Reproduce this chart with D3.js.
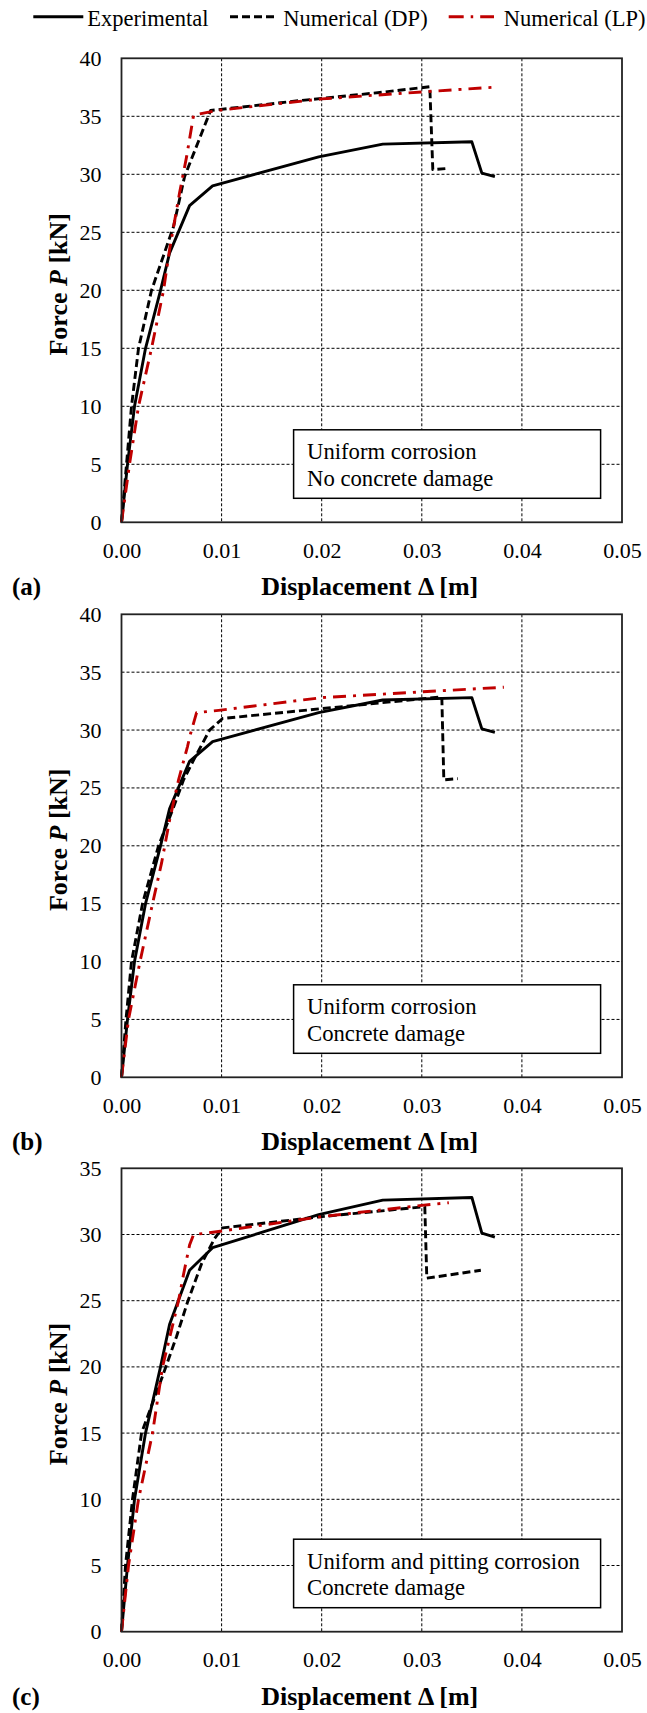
<!DOCTYPE html>
<html>
<head>
<meta charset="utf-8">
<script src="https://cdn.jsdelivr.net/npm/d3@7/dist/d3.min.js"></script>
<style>
  html, body { margin: 0; padding: 0; background: #fff; }
  svg { display: block; }
</style>
</head>
<body>
<svg id="chart" width="647" height="1713"></svg>
<script>
// Force–displacement curves, displacement in m, force in kN
const experimental = [
  [0, 0], [0.0006, 5], [0.0013, 10], [0.0024, 15], [0.0039, 20], [0.0048, 23.2],
  [0.0068, 27.3], [0.0091, 29.0], [0.0197, 31.5], [0.0261, 32.6], [0.0350, 32.8],
  [0.0360, 30.1], [0.0373, 29.8]
];

// (a) uniform corrosion, no concrete damage
const dpA = [
  [0, 0], [0.0005, 5], [0.0010, 10], [0.0017, 15], [0.0030, 20], [0.0052, 25.5],
  [0.0063, 29.8], [0.0089, 35.5], [0.0178, 36.35], [0.0258, 37.05], [0.0308, 37.55],
  [0.0311, 30.4], [0.0325, 30.5]
];
const lpA = [
  [0, 0], [0.0008, 5], [0.0017, 10], [0.0030, 15], [0.0042, 20], [0.0048, 23.5],
  [0.0058, 28.4], [0.0065, 31.5], [0.0072, 35.1], [0.0095, 35.5], [0.0200, 36.5],
  [0.0300, 37.1], [0.0371, 37.5]
];

// (b) uniform corrosion, concrete damage
const dpB = [
  [0, 0], [0.00045, 5], [0.0010, 10], [0.0021, 15], [0.0037, 20], [0.0051, 23.1],
  [0.0062, 25.7], [0.0072, 27.4], [0.0088, 30.0], [0.0101, 31.0], [0.0200, 31.85],
  [0.0320, 32.87], [0.0322, 25.7], [0.0336, 25.8]
];
const lpB = [
  [0, 0], [0.0007, 5], [0.00185, 10], [0.0031, 15], [0.0040, 18.5], [0.0048, 22.2],
  [0.0057, 25.7], [0.0066, 28.6], [0.0069, 29.7], [0.0075, 31.5], [0.0097, 31.7],
  [0.0200, 32.8], [0.0300, 33.3], [0.0382, 33.7]
];

// (c) uniform and pitting corrosion, concrete damage
const dpC = [
  [0, 0], [0.0004, 5], [0.0011, 10], [0.0020, 15], [0.0041, 19.3], [0.0055, 22.3],
  [0.0066, 24.9], [0.0080, 27.8], [0.0093, 29.7], [0.0101, 30.5], [0.0200, 31.35],
  [0.0303, 32.1], [0.0305, 26.7], [0.0359, 27.3]
];
const lpC = [
  [0, 0], [0.0007, 5], [0.0017, 10], [0.0031, 15], [0.0041, 20], [0.0057, 25],
  [0.0062, 27.0], [0.0068, 29.2], [0.0072, 30.0], [0.0085, 30.1], [0.0200, 31.35],
  [0.0300, 32.2], [0.0327, 32.4]
];

const xTickValues = [0, 0.01, 0.02, 0.03, 0.04, 0.05];
const yTicksAB = [0, 5, 10, 15, 20, 25, 30, 35, 40];
const yTicksC = [0, 5, 10, 15, 20, 25, 30, 35];
const panelLabels = ["(a)", "(b)", "(c)"];
const noteLines = [
  ["Uniform corrosion", "No concrete damage"],
  ["Uniform corrosion", "Concrete damage"],
  ["Uniform and pitting corrosion", "Concrete damage"]
];
const seriesNames = ["Experimental", "Numerical (DP)", "Numerical (LP)"];

const FONT = '"Liberation Serif", "Times New Roman", Tinos, "DejaVu Serif", serif';
const RED = "#c00000";
const seriesStyle = [
  { stroke: "#000", dash: null },
  { stroke: "#000", dash: "8,4" },
  { stroke: RED, dash: "13,7,3,7" }
];

const svg = d3.select("#chart")
  .attr("font-family", FONT)
  .style("font-family", FONT);
svg.append("rect").attr("width", 647).attr("height", 1713).attr("fill", "#fff");

const plotLeft = 121.5, plotRight = 622;
const x = d3.scaleLinear().domain([0, 0.05]).range([plotLeft, plotRight]);

const panels = [
  { top: 58.3, bottom: 522.3, yTicks: yTicksAB, dp: dpA, lp: lpA },
  { top: 614.3, bottom: 1077.3, yTicks: yTicksAB, dp: dpB, lp: lpB },
  { top: 1168.3, bottom: 1631.7, yTicks: yTicksC, dp: dpC, lp: lpC }
];

function serif(sel) {
  return sel.attr("font-family", FONT).style("font-family", FONT).attr("fill", "#000");
}

panels.forEach((p, i) => {
  const yMax = p.yTicks[p.yTicks.length - 1];
  const y = d3.scaleLinear().domain([0, yMax]).range([p.bottom, p.top]);
  const g = svg.append("g");

  // dashed grid
  g.append("g").selectAll("line")
    .data(xTickValues.slice(1, -1)).join("line")
    .attr("x1", d => x(d)).attr("x2", d => x(d))
    .attr("y1", p.top).attr("y2", p.bottom)
    .attr("stroke", "#000").attr("stroke-width", 1).attr("stroke-dasharray", "3,2");
  g.append("g").selectAll("line")
    .data(p.yTicks.slice(1, -1)).join("line")
    .attr("x1", plotLeft).attr("x2", plotRight)
    .attr("y1", d => y(d)).attr("y2", d => y(d))
    .attr("stroke", "#000").attr("stroke-width", 1).attr("stroke-dasharray", "3,2");

  // axes (labels only, frame drawn separately)
  const xAxis = g.append("g").attr("transform", `translate(0,${p.bottom})`)
    .call(d3.axisBottom(x).tickValues(xTickValues).tickFormat(d3.format(".2f"))
      .tickSize(0).tickPadding(19.8));
  const yAxis = g.append("g").attr("transform", `translate(${plotLeft},0)`)
    .call(d3.axisLeft(y).tickValues(p.yTicks).tickFormat(d3.format("d"))
      .tickSize(0).tickPadding(20));
  [xAxis, yAxis].forEach(a => {
    a.attr("font-family", FONT).attr("font-size", 22);
    a.select(".domain").remove();
    serif(a.selectAll("text")).attr("font-size", 22);
  });

  // curves
  const line = d3.line().x(d => x(d[0])).y(d => y(d[1]));
  [experimental, p.dp, p.lp].forEach((data, k) => {
    g.append("path").datum(data)
      .attr("d", line)
      .attr("fill", "none")
      .attr("stroke", seriesStyle[k].stroke)
      .attr("stroke-width", 2.9)
      .attr("stroke-linejoin", "round")
      .attr("stroke-dasharray", seriesStyle[k].dash);
  });

  // frame
  g.append("rect")
    .attr("x", plotLeft).attr("y", p.top)
    .attr("width", plotRight - plotLeft).attr("height", p.bottom - p.top)
    .attr("fill", "none").attr("stroke", "#222").attr("stroke-width", 1.8);

  // case description box
  const bx = 293.6, bw = 307, bh = 68.5, by = p.bottom - 24 - bh;
  g.append("rect").attr("x", bx).attr("y", by).attr("width", bw).attr("height", bh)
    .attr("fill", "#fff").attr("stroke", "#000").attr("stroke-width", 1.5);
  serif(g.selectAll("text.note").data(noteLines[i]).join("text"))
    .attr("class", "note")
    .attr("x", bx + 13.4).attr("y", (d, j) => by + 29.5 + j * 26.5)
    .attr("font-size", 22.7).text(d => d);

  // axis titles
  serif(g.append("text"))
    .attr("x", (plotLeft + plotRight) / 2 - 2).attr("y", p.bottom + 73)
    .attr("text-anchor", "middle").attr("font-size", 26).attr("font-weight", "bold")
    .text("Displacement \u0394 [m]");
  const yt = serif(g.append("text"))
    .attr("transform", `translate(67,${(p.top + p.bottom) / 2 - 6}) rotate(-90)`)
    .attr("text-anchor", "middle").attr("font-size", 26).attr("font-weight", "bold");
  yt.append("tspan").text("Force ");
  yt.append("tspan").attr("font-style", "italic").text("P");
  yt.append("tspan").text(" [kN]");

  // panel label
  serif(g.append("text")).attr("x", 12).attr("y", p.bottom + 73)
    .attr("font-size", 25).attr("font-weight", "bold").text(panelLabels[i]);
});

// legend
const legendItems = [
  { x1: 33.3, x2: 83.3, tx: 87.3 },
  { x1: 230, x2: 277, tx: 283.3 },
  { x1: 448.7, x2: 494, tx: 503.7 }
];
const legendDash = [null, "8,4", "15,7,2.5,7"];
const lg = svg.append("g");
legendItems.forEach((it, k) => {
  lg.append("line").attr("x1", it.x1).attr("x2", it.x2).attr("y1", 16.7).attr("y2", 16.7)
    .attr("stroke", seriesStyle[k].stroke).attr("stroke-width", 3)
    .attr("stroke-dasharray", legendDash[k]);
  serif(lg.append("text")).attr("x", it.tx).attr("y", 25.5).attr("font-size", 22.5).text(seriesNames[k]);
});
</script>
</body>
</html>
